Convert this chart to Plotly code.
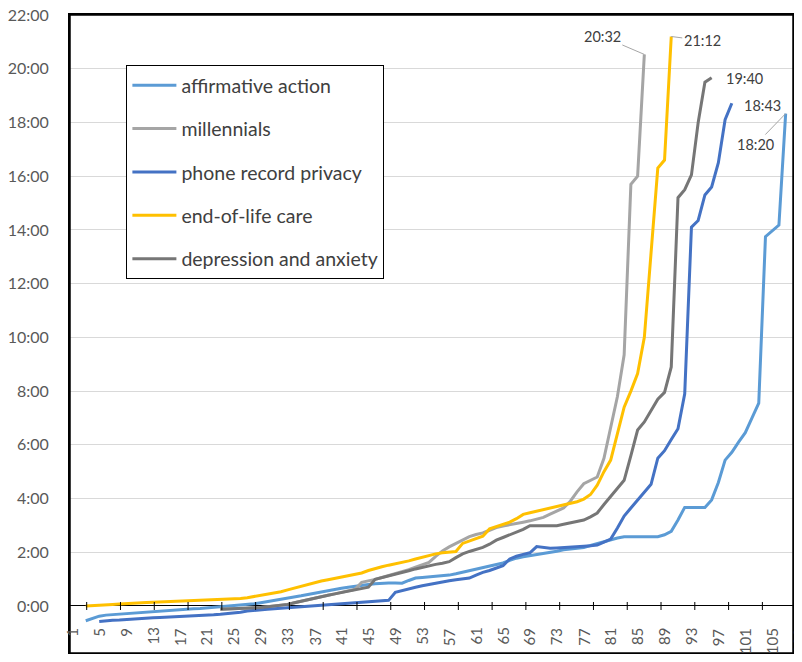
import plotly.graph_objects as go

# ---- data (values in hours, shown as h:mm) ----
series_names = ["affirmative action", "millennials", "phone record privacy",
                "end-of-life care", "depression and anxiety"]
series_colors = ["#5B9BD5", "#A5A5A5", "#4472C4", "#FFC000", "#767676"]

affirmative_action_start = 3
affirmative_action = [
    -0.55, -0.45, -0.38, -0.34, -0.32, -0.3, -0.28, -0.26,
    -0.24, -0.22, -0.2, -0.18, -0.16, -0.15, -0.13, -0.12, -0.1, -0.09,
    -0.07, -0.05, -0.03, -0.01, 0.02, 0.04, 0.06, 0.08, 0.12, 0.16,
    0.2, 0.24, 0.28, 0.33, 0.38, 0.43, 0.48, 0.53, 0.58, 0.62,
    0.66, 0.7, 0.74, 0.77, 0.8, 0.83, 0.85, 0.86, 0.86, 0.85,
    0.95, 1.04, 1.06, 1.08, 1.1, 1.12, 1.15, 1.2, 1.26, 1.32,
    1.38, 1.43, 1.48, 1.54, 1.6, 1.7, 1.78, 1.83, 1.87, 1.9,
    1.95, 2.0, 2.04, 2.09, 2.12, 2.15, 2.18, 2.25, 2.32, 2.4,
    2.47, 2.53, 2.58, 2.58, 2.58, 2.58, 2.58, 2.58, 2.65, 2.78,
    3.2, 3.67, 3.67, 3.67, 3.67, 3.95, 4.6, 5.43, 5.72, 6.1,
    6.45, 7.0, 7.55, 13.75, 13.95, 14.18, 18.33,
]

millennials_start = 23
millennials = [
    -0.12, -0.11, -0.1, -0.1, -0.09, -0.09, -0.06, -0.03,
    0.0, 0.03, 0.06, 0.12, 0.18, 0.24, 0.29, 0.34, 0.4, 0.45,
    0.5, 0.56, 0.62, 0.88, 0.93, 0.99, 1.06, 1.13, 1.2, 1.27,
    1.35, 1.45, 1.53, 1.62, 1.85, 2.05, 2.2, 2.33, 2.48, 2.58,
    2.66, 2.72, 2.82, 2.92, 2.98, 3.02, 3.07, 3.12, 3.17, 3.23,
    3.3, 3.42, 3.52, 3.65, 3.9, 4.25, 4.55, 4.67, 4.8, 5.5,
    6.6, 7.8, 9.35, 15.7, 16.0, 20.533,
]

phone_record_privacy_start = 5
phone_record_privacy = [
    -0.58, -0.55, -0.53, -0.52, -0.5, -0.49,
    -0.47, -0.46, -0.44, -0.43, -0.42, -0.41, -0.4, -0.39, -0.38, -0.37,
    -0.35, -0.33, -0.31, -0.29, -0.27, -0.23, -0.19, -0.16, -0.14, -0.12,
    -0.1, -0.09, -0.07, -0.05, -0.03, -0.01, 0.0, 0.01, 0.03, 0.05,
    0.07, 0.09, 0.11, 0.13, 0.15, 0.17, 0.19, 0.21, 0.51, 0.58,
    0.64, 0.7, 0.75, 0.8, 0.86, 0.9, 0.94, 0.98, 1.0, 1.04,
    1.15, 1.25, 1.32, 1.4, 1.5, 1.75, 1.85, 1.92, 1.98, 2.21,
    2.18, 2.15, 2.16, 2.17, 2.18, 2.2, 2.22, 2.24, 2.27, 2.38,
    2.49, 2.9, 3.35, 3.65, 3.95, 4.25, 4.53, 5.5, 5.78, 6.2,
    6.6, 7.9, 14.1, 14.35, 15.3, 15.6, 16.5, 18.1, 18.717,
]

end_of_life_care_start = 3
end_of_life_care = [
    0.0, 0.02, 0.04, 0.05, 0.06, 0.07, 0.09, 0.1,
    0.12, 0.13, 0.14, 0.15, 0.16, 0.17, 0.18, 0.19, 0.2, 0.21,
    0.23, 0.24, 0.25, 0.26, 0.27, 0.28, 0.31, 0.35, 0.4, 0.44,
    0.49, 0.53, 0.6, 0.67, 0.74, 0.8, 0.87, 0.93, 0.98, 1.03,
    1.09, 1.14, 1.18, 1.23, 1.32, 1.4, 1.46, 1.52, 1.57, 1.61,
    1.68, 1.75, 1.82, 1.88, 1.94, 1.98, 2.0, 2.03, 2.33, 2.42,
    2.5, 2.6, 2.87, 2.96, 3.03, 3.12, 3.25, 3.41, 3.47, 3.53,
    3.58, 3.64, 3.7, 3.76, 3.82, 3.88, 3.98, 4.15, 4.5, 5.0,
    5.43, 6.4, 7.4, 8.0, 8.65, 10.0, 13.2, 16.3, 16.6, 21.2,
]

depression_and_anxiety_start = 23
depression_and_anxiety = [
    -0.12, -0.11, -0.1, -0.1, -0.09, -0.09, -0.06, -0.03,
    0.0, 0.03, 0.06, 0.12, 0.18, 0.24, 0.29, 0.34, 0.4, 0.45,
    0.5, 0.56, 0.62, 0.66, 0.7, 0.99, 1.05, 1.12, 1.18, 1.24,
    1.31, 1.38, 1.44, 1.5, 1.55, 1.59, 1.65, 1.8, 1.94, 2.03,
    2.1, 2.18, 2.3, 2.45, 2.55, 2.65, 2.73, 2.85, 2.99, 2.99,
    2.99, 2.99, 2.99, 3.04, 3.1, 3.15, 3.2, 3.32, 3.46, 3.78,
    4.07, 4.38, 4.68, 5.6, 6.55, 6.85, 7.3, 7.7, 7.95, 8.9,
    15.2, 15.5, 16.05, 18.0, 19.5, 19.667,
]

x_tick_labels = list(range(1, 110, 4))
y_tick_values = list(range(0, 24, 2))
y_tick_labels = [f"{v}:00" for v in y_tick_values]

end_labels = ["18:20", "20:32", "18:43", "21:12", "19:40"]

series_values = [affirmative_action, millennials, phone_record_privacy,
                 end_of_life_care, depression_and_anxiety]
series_starts = [affirmative_action_start, millennials_start,
                 phone_record_privacy_start, end_of_life_care_start,
                 depression_and_anxiety_start]

FONT = "Lato"
TXT = "#595959"

XR = [0.658, 108.09]
YR = [-1.75, 22]
TICK0, TICK_STEP = 3.14, 5.02          # category-axis tick mark spacing
x_tick_marks = [TICK0 + TICK_STEP * k for k in range(22)]
x_tick_marks = [t for t in x_tick_marks if XR[0] < t < XR[1]]

fig = go.Figure()
for name, color, vals, start in zip(series_names, series_colors,
                                     series_values, series_starts):
    xs = list(range(start, start + len(vals)))
    fig.add_trace(go.Scatter(x=xs, y=vals, mode="lines", name=name,
                             legendgroup=name,
                             line=dict(color=color, width=3)))

def last(i):
    return series_starts[i] + len(series_values[i]) - 1, series_values[i][-1]

anns = []
x, y = last(1)   # millennials
anns.append(dict(x=x, y=y, text=end_labels[1], ax=-42, ay=-18,
                 showarrow=True, arrowhead=0, arrowwidth=1,
                 arrowcolor="#A6A6A6", standoff=0))
x, y = last(3)   # end-of-life care
anns.append(dict(x=x, y=y, text=end_labels[3], ax=31, ay=4,
                 showarrow=True, arrowhead=0, arrowwidth=1,
                 arrowcolor="#A6A6A6", standoff=0))
x, y = last(4)   # depression and anxiety
anns.append(dict(x=x, y=y, text=end_labels[4], showarrow=False,
                 xanchor="left", xshift=12, yshift=-1))
x, y = last(2)   # phone record privacy
anns.append(dict(x=x, y=y, text=end_labels[2], showarrow=False,
                 xanchor="left", xshift=10, yshift=-2))
x, y = last(0)   # affirmative action
anns.append(dict(x=x, y=y, text=end_labels[0], ax=-30, ay=31,
                 showarrow=True, arrowhead=0, arrowwidth=1,
                 arrowcolor="#A6A6A6", standoff=0))
for a in anns:
    a.update(xref="x", yref="y",
             font=dict(family=FONT, size=14.5, color="#404040"))

# category labels under the axis line (which sits at 0:00)
for c in x_tick_labels:
    anns.append(dict(x=(c - XR[0]) / (XR[1] - XR[0]), xref="paper",
                     y=0, yref="y", text=str(c), textangle=-90,
                     showarrow=False, xanchor="center", yanchor="top",
                     yshift=-20,
                     font=dict(family=FONT, size=15, color=TXT)))

# tick marks crossing the axis line
shapes = [dict(type="line", xref="x", yref="y", x0=t, x1=t,
               ysizemode="pixel", yanchor=0, y0=-4, y1=4,
               line=dict(color="black", width=1)) for t in x_tick_marks]
# plot-area frame
shapes.append(dict(type="rect", xref="paper", yref="paper", x0=0, x1=1,
                   y0=0, y1=1, line=dict(color="black", width=1.5),
                   layer="above"))

# page body has an 8px margin: keep the figure inside the window
fig.update_layout(
    width=786, height=646,
    margin=dict(l=62, r=1, t=7, b=1, autoexpand=False),
    paper_bgcolor="white", plot_bgcolor="white",
    showlegend=True,
    legend=dict(x=0.078, y=0.9215, xanchor="left", yanchor="top",
                bgcolor="white", bordercolor="black", borderwidth=1,
                font=dict(family=FONT, size=19.5, color="#404040"),
                traceorder="grouped", tracegroupgap=15, itemwidth=44),
    xaxis=dict(range=XR, showline=True, mirror=True, linecolor="black",
               linewidth=1.5, ticks="", showticklabels=False,
               showgrid=False, zeroline=False, automargin=False),
    yaxis=dict(range=YR, tickmode="array", tickvals=y_tick_values,
               ticktext=y_tick_labels, ticks="", ticklabelstandoff=16,
               ticklabeloverflow="allow", automargin=False,
               tickfont=dict(family=FONT, size=16, color=TXT),
               showgrid=True, gridcolor="#D9D9D9", gridwidth=1,
               zeroline=True, zerolinecolor="black", zerolinewidth=1.3,
               showline=True, mirror=True, linecolor="black", linewidth=2),
    annotations=anns,
    shapes=shapes,
)

fig.write_html("out.html")
